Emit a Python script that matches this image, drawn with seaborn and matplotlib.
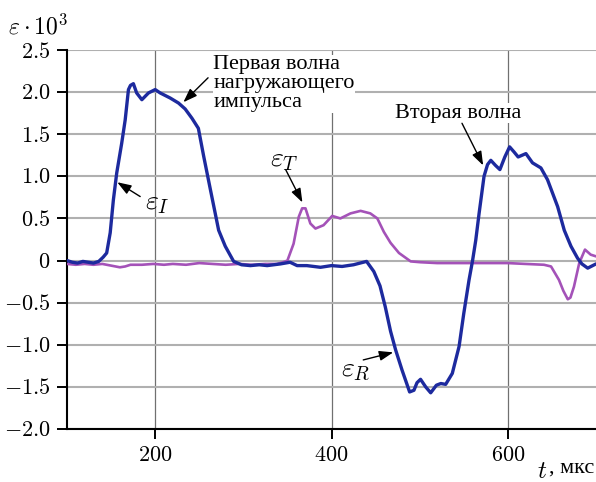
import numpy as np
import pandas as pd
import matplotlib
matplotlib.use('Agg')
import matplotlib.pyplot as plt
import seaborn as sns
from matplotlib.ticker import FixedLocator, FuncFormatter

# ---- data ----
t_blue = [100, 106, 112, 118, 124, 130, 136, 141, 145, 149, 152.6, 156.4, 162, 166,
          169.7, 172, 175.3, 179, 184.9, 192.4, 200, 205.7, 217, 226.5, 234, 241.7,
          249, 255, 262.5, 272, 279.5, 289, 298, 308, 318, 327, 342, 353, 361, 372,
          387.5, 400, 412, 425, 439.8, 448, 455, 461, 467, 472.7, 480, 488.6, 493.5,
          497, 501, 506.8, 512.5, 519, 524, 529.5, 537, 544.7, 550, 556, 560, 563.6,
          567.4, 573, 577, 580.7, 586, 591, 596.6, 602, 607, 611.7, 620.5, 628, 637.5,
          645, 656.5, 664, 671.6, 679, 684, 690.6, 700]
eps_blue = [0.00, -0.02, -0.03, -0.01, -0.02, -0.03, -0.01, 0.04, 0.09, 0.33, 0.72, 1.04,
            1.39, 1.67, 2.03, 2.08, 2.10, 1.99, 1.91, 1.99, 2.03, 1.99, 1.93, 1.87, 1.80,
            1.69, 1.57, 1.24, 0.85, 0.36, 0.17, -0.01, -0.05, -0.06, -0.05, -0.06, -0.04,
            -0.02, -0.06, -0.06, -0.08, -0.06, -0.07, -0.05, -0.01, -0.13, -0.30, -0.55,
            -0.84, -1.06, -1.30, -1.56, -1.54, -1.45, -1.41, -1.50, -1.57, -1.48, -1.46,
            -1.47, -1.34, -1.02, -0.63, -0.23, 0.00, 0.24, 0.56, 1.00, 1.14, 1.19, 1.13,
            1.08, 1.23, 1.35, 1.29, 1.23, 1.27, 1.16, 1.10, 0.96, 0.64, 0.36, 0.17, 0.03,
            -0.04, -0.09, -0.04]

t_purple = [100, 110, 120, 130, 140, 150, 160, 166, 172, 185, 198, 210, 220, 235, 250,
            265, 280, 295, 310, 325, 338, 345, 350, 357, 362.9, 366.7, 370.5, 376, 381.8,
            391, 400.8, 410, 421.6, 433, 444, 452, 459.4, 467, 476.5, 489.8, 501, 520,
            540, 560, 580, 600, 620, 641, 649, 658, 663, 668, 671, 675, 681, 687.5, 694, 700]
eps_purple = [-0.04, -0.05, -0.04, -0.05, -0.04, -0.06, -0.08, -0.07, -0.05, -0.05, -0.04,
              -0.05, -0.04, -0.05, -0.03, -0.04, -0.05, -0.04, -0.05, -0.04, -0.04, -0.02,
              0.00, 0.20, 0.52, 0.62, 0.62, 0.44, 0.38, 0.42, 0.53, 0.50, 0.56, 0.59, 0.56,
              0.50, 0.34, 0.21, 0.09, -0.01, -0.02, -0.03, -0.03, -0.03, -0.03, -0.03, -0.04,
              -0.05, -0.07, -0.23, -0.36, -0.46, -0.44, -0.31, -0.03, 0.13, 0.07, 0.05]

x_ticks = [200, 400, 600]
y_ticks = [-2.0, -1.5, -1.0, -0.5, 0.0, 0.5, 1.0, 1.5, 2.0, 2.5]

label_first = 'Первая волна\nнагружающего\nимпульса'
label_second = 'Вторая волна'
x_label_unit = ', мкс'

# ---- style ----
sns.set_theme(style='white')
plt.rcParams['font.family'] = ['Liberation Serif', 'DejaVu Serif']
plt.rcParams['mathtext.fontset'] = 'cm'
for k in ['text.color', 'axes.labelcolor', 'xtick.color', 'ytick.color']:
    plt.rcParams[k] = 'black'

fig = plt.figure(figsize=(5.96, 4.82), dpi=100)
ax = fig.add_axes([67 / 596, 53 / 482, 529 / 596, 379 / 482])

df_b = pd.DataFrame({'t': t_blue, 'eps': eps_blue})
df_p = pd.DataFrame({'t': t_purple, 'eps': eps_purple})
sns.lineplot(data=df_p, x='t', y='eps', color='#a452b8', lw=1.9, ax=ax,
             estimator=None, sort=False, zorder=3)
sns.lineplot(data=df_b, x='t', y='eps', color='#1d2a9e', lw=2.4, ax=ax,
             estimator=None, sort=False, zorder=4)

ax.set_xlim(100, 700)
ax.set_ylim(-2.0, 2.5)
ax.xaxis.set_major_locator(FixedLocator(x_ticks))
ax.yaxis.set_major_locator(FixedLocator(y_ticks))
ax.xaxis.set_major_formatter(FuncFormatter(lambda v, p: f'${v:.0f}$'))
ax.yaxis.set_major_formatter(FuncFormatter(
    lambda v, p: '$0$' if abs(v) < 1e-9 else f'${v:.1f}$'))

ax.yaxis.grid(True, color='#b0b0b0', lw=1.5)
ax.xaxis.grid(True, color='#707070', lw=0.9)
ax.set_axisbelow(True)

for s in ['top', 'right']:
    ax.spines[s].set_visible(False)
for s in ['left', 'bottom']:
    ax.spines[s].set_color('black')
    ax.spines[s].set_linewidth(1.5)

ax.tick_params(axis='both', which='major', direction='out', length=7, width=1.4,
               color='black', labelcolor='black', labelsize=16, left=True, bottom=True)
ax.tick_params(axis='y', pad=5)
ax.tick_params(axis='x', pad=6)

ax.set_xlabel('')
ax.set_ylabel(r'$\varepsilon\cdot10^3$', rotation=0, fontsize=17, ha='left', va='center')
ax.yaxis.set_label_coords(-0.112, 1.061)

unit = fig.text(594 / 596, 1 - 473 / 482, x_label_unit, ha='right', va='baseline', fontsize=16)
ax.annotate('$t$', xy=(0, 0), xycoords=unit, ha='right', va='baseline', fontsize=18,
            xytext=(-1, 0), textcoords='offset points')

box = dict(fc='white', ec='none', pad=0.5)
ax.text(266, 2.10, label_first, ha='left', va='center', fontsize=16, linespacing=1.0,
        bbox=box, zorder=5)
ax.text(544, 1.75, label_second, ha='center', va='center', fontsize=16, bbox=box, zorder=5)

ax.text(203, 0.68, r'$\varepsilon_I$', fontsize=20, ha='center', va='center', zorder=6)
ax.text(346, 1.19, r'$\varepsilon_T$', fontsize=20, ha='center', va='center', zorder=6)
ax.text(427, -1.30, r'$\varepsilon_R$', fontsize=20, ha='center', va='center', zorder=6)

arrow = dict(arrowstyle='-|>,head_length=0.7,head_width=0.25', color='black', lw=1.0,
             shrinkA=0, shrinkB=0, mutation_scale=12)
for head, tail in [((232, 1.88), (260, 2.17)),
                   ((572, 1.13), (548, 1.63)),
                   ((367, 0.69), (348, 1.08)),
                   ((157, 0.93), (183, 0.76)),
                   ((470, -1.09), (436, -1.18))]:
    ax.annotate('', xy=head, xytext=tail, arrowprops=arrow, zorder=7)

fig.savefig('out.png', dpi=100)
